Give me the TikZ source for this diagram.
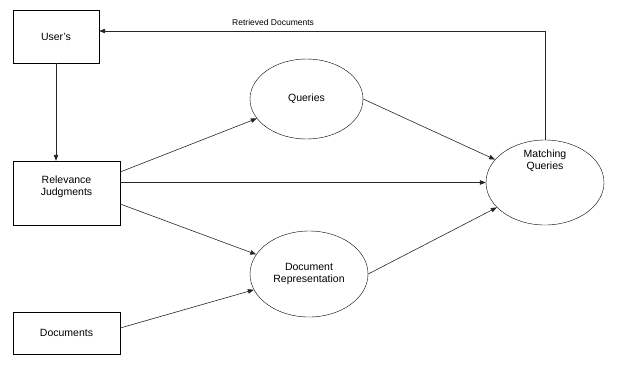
\documentclass[tikz,border=0pt]{standalone}
\usepackage{fontspec}
\setmainfont{Liberation Sans}
\usetikzlibrary{calc,arrows.meta,shapes.geometric}

\tikzset{
    box/.style={draw, inner sep=2pt, align=center, font=\fontsize{10.5}{12}\selectfont},
    oval/.style={draw, ellipse, inner sep=0pt, align=center, font=\fontsize{10.5}{12}\selectfont},
    flow/.style={draw=black!85, line width=0.6pt, -{Triangle[length=6pt,width=4.5pt]}}
}

\begin{document}
\begin{tikzpicture}[x=1pt, y=-1pt]
        \useasboundingbox (0,0) rectangle (630,376);
        \coordinate (U) at (56,36.5);
        \coordinate (R) at (66.5,193);
        \coordinate (D) at (66.5,333);
        \coordinate (Q) at (306.5,99);
        \coordinate (P) at (309,274);
        \coordinate (M) at (545,182.5);
        \node[box, minimum width=86pt, minimum height=53pt] (usr) at (U) {User's};
        \node[box, minimum width=107pt, minimum height=64pt] (rel) at (R) {Relevance\\Judgments\\[3pt]};
        \node[box, minimum width=107pt, minimum height=42pt] (dcs) at (D) {Documents};
        \node[oval, minimum width=113pt, minimum height=80pt] (que) at (Q) {Queries};
        \node[oval, minimum width=118pt, minimum height=86pt] (rep) at (P) {Document\\Representation};
        \node[oval, minimum width=118pt, minimum height=85pt,
            label={[align=center, yshift=22pt, font=\fontsize{10.5}{12}\selectfont]center:Matching\\Queries}] (mat) at (M) {};
        \draw[flow] (usr.south) -- (usr.south |- rel.north);
        \draw[flow] ([yshift=21pt]rel.east) -- (que);
        \draw[flow] ([yshift=10.5pt]rel.east) -- ([yshift=10.5pt]rel.east -| mat.west);
        \draw[flow] ([yshift=-11pt]rel.east) -- (rep);
        \draw[flow] ([yshift=5pt]dcs.east) -- (rep);
        \draw[flow] (que.east) -- (mat);
        \draw[flow] (rep.east) -- (mat);
        \draw[flow] (mat.north) |- ([yshift=5.5pt]usr.east)
            node[pos=0.805, above=2pt, font=\fontsize{8.5}{10}\selectfont] {Retrieved Documents};
    \end{tikzpicture}
\end{document}
